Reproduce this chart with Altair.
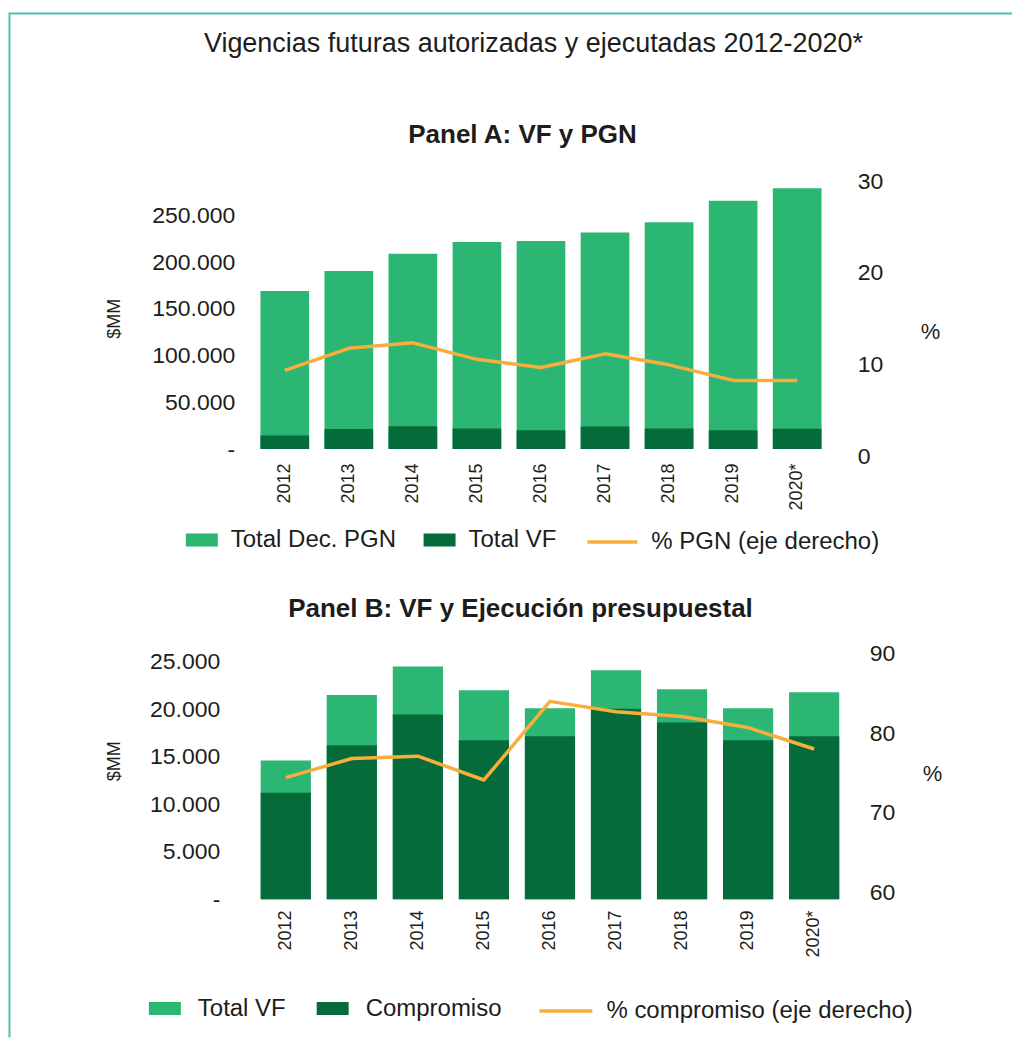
import altair as alt
import pandas as pd

# ---------------- data ----------------
years = ["2012", "2013", "2014", "2015", "2016", "2017", "2018", "2019", "2020*"]
pgn_total = [169000, 190500, 209000, 221500, 222500, 231500, 242500, 265500, 279000]
vf_total = [14600, 21500, 24500, 22000, 20100, 24100, 22100, 20100, 21800]
compromiso = [11200, 16200, 19450, 16750, 17150, 20050, 18600, 16750, 17150]
pct_pgn = [8.6, 11.0, 11.6, 9.8, 8.9, 10.4, 9.2, 7.5, 7.5]
pct_comp = [75.3, 77.7, 78.0, 75.0, 84.9, 83.6, 83.0, 81.6, 78.9]

title_main = "Vigencias futuras autorizadas y ejecutadas 2012-2020*"
title_a = "Panel A: VF y PGN"
title_b = "Panel B: VF y Ejecución presupuestal"
legend_a = ["Total Dec. PGN", "Total VF", "% PGN (eje derecho)"]
legend_b = ["Total VF", "Compromiso", "% compromiso (eje derecho)"]
ticks_a_left = [0, 50000, 100000, 150000, 200000, 250000]
ticks_a_right = [0, 10, 20, 30]
ticks_b_left = [0, 5000, 10000, 15000, 20000, 25000]
ticks_b_right = [60, 70, 80, 90]

# ---------------- style ----------------
LIGHT = "#2cb673"
DARK = "#066b3a"
ORANGE = "#f7ae3b"
TEAL = "#4fc1b0"
TXT = "#1d1d1b"
FONT = "Liberation Sans"
LABEL_EXPR = "datum.value == 0 ? '-' : replace(format(datum.value, ','), ',', '.')"

df_a_light = pd.DataFrame({"year": years, "value": pgn_total, "serie": legend_a[0]})
df_a_dark = pd.DataFrame({"year": years, "value": vf_total, "serie": legend_a[1]})
df_a_line = pd.DataFrame({"year": years, "pct": pct_pgn, "serie_l": legend_a[2]})
df_b_light = pd.DataFrame({"year": years, "value": vf_total, "serie": legend_b[0]})
df_b_dark = pd.DataFrame({"year": years, "value": compromiso, "serie": legend_b[1]})
df_b_line = pd.DataFrame({"year": years, "pct": pct_comp, "serie_l": legend_b[2]})
dummy = pd.DataFrame({"d": [0]})


def x_enc(pad):
    axis = alt.Axis(title=None, labelAngle=270, labelFont=FONT, labelFontSize=18,
                    labelPadding=pad, labelColor=TXT, domain=False, ticks=False)
    return alt.X("year:N", sort=years,
                 scale=alt.Scale(paddingInner=0.24, paddingOuter=0.12), axis=axis)


def make_panel(df_light, df_dark, df_line, legend_names, y_dom, y_ticks, y_pad, title_y,
               r_dom, r_ticks, r_pad, r_off, r_title_x, r_title_y, h,
               x_pad, lx_bar, ly_bar, col_pad, lab_off, lx_line, ly_line, line_len):
    y_scale = alt.Scale(domain=y_dom, nice=False, zero=True)
    y_axis = alt.Axis(values=y_ticks, labelExpr=LABEL_EXPR, labelFont=FONT, labelFontSize=23,
                      labelColor=TXT, labelPadding=y_pad, domain=False, ticks=False, grid=False,
                      title="$MM", titleFont=FONT, titleFontSize=18, titleFontWeight="normal",
                      titleColor=TXT, titleAngle=270, titleX=-138, titleY=title_y,
                      titleAlign="center", titleBaseline="middle")
    color_scale = alt.Scale(domain=legend_names[:2], range=[LIGHT, DARK])
    bar_legend = alt.Legend(orient="none", legendX=lx_bar, legendY=ly_bar, direction="horizontal",
                            title=None, symbolType="M-1,-0.4H1V0.4H-1Z", symbolSize=1024,
                            symbolStrokeWidth=0, symbolOpacity=1, labelFont=FONT,
                            labelFontSize=24, labelColor=TXT, labelOffset=lab_off,
                            columnPadding=col_pad, padding=0, labelLimit=600)
    light = alt.Chart(df_light).mark_bar().encode(
        x=x_enc(x_pad),
        y=alt.Y("value:Q", stack=None, scale=y_scale, axis=y_axis),
        color=alt.Color("serie:N", scale=color_scale, legend=bar_legend),
    )
    dark = alt.Chart(df_dark).mark_bar().encode(
        x=x_enc(x_pad),
        y=alt.Y("value:Q", stack=None, scale=y_scale, axis=y_axis),
        color=alt.Color("serie:N", scale=color_scale, legend=bar_legend),
    )
    bars = alt.layer(light, dark)
    line = alt.Chart(df_line).mark_line(strokeWidth=3.5, strokeJoin="round").encode(
        x=x_enc(x_pad),
        y=alt.Y("pct:Q", scale=alt.Scale(domain=r_dom, nice=False, zero=False),
                axis=alt.Axis(orient="right", values=r_ticks, labelFont=FONT, labelFontSize=23,
                              labelColor=TXT, labelPadding=r_pad, labelOffset=r_off,
                              domain=False, ticks=False, grid=False,
                              title="%", titleFont=FONT, titleFontSize=22,
                              titleFontWeight="normal", titleColor=TXT, titleAngle=0,
                              titleX=r_title_x, titleY=r_title_y, titleAlign="center",
                              titleBaseline="middle")),
        stroke=alt.Stroke("serie_l:N", scale=alt.Scale(domain=[legend_names[2]], range=[ORANGE]),
                          legend=alt.Legend(orient="none", legendX=lx_line, legendY=ly_line,
                                            title=None, symbolType="M-1,0H1",
                                            symbolSize=line_len * line_len,
                                            symbolStrokeWidth=3.5, labelFont=FONT,
                                            labelFontSize=24, labelColor=TXT, labelOffset=12,
                                            padding=0, labelLimit=600)),
    )
    return alt.layer(bars, line).resolve_scale(y="independent", color="independent",
                                               stroke="independent").properties(height=h)


def text_layer(txt, x, y, size, weight="normal"):
    return alt.Chart(pd.DataFrame({"t": [txt]})).mark_text(
        font=FONT, fontSize=size, fontWeight=weight, color=TXT, align="center",
        baseline="middle").encode(text="t:N", x=alt.value(x), y=alt.value(y))


panel_a_core = make_panel(df_a_light, df_a_dark, df_a_line, legend_a, [0, 293800], ticks_a_left, 18, 144,
                          [0, 30], ticks_a_right, 28, 7, 101, 157, 275,
                          14, -67, 350, 27, 13, 333, 341, 50)
panel_b_core = make_panel(df_b_light, df_b_dark, df_b_line, legend_b, [0, 25100], ticks_b_left, 33, 100,
                          [60, 90], ticks_b_right, 22, -7, 85, 113, 238.5,
                          11, -104, 332, 30, 17, 285, 322, 53)

top_rule = alt.Chart(dummy).mark_rule(color=TEAL, strokeWidth=2).encode(
    x=alt.value(-244), x2=alt.value(760), y=alt.value(-161))
left_rule = alt.Chart(dummy).mark_rule(color=TEAL, strokeWidth=2).encode(
    x=alt.value(-243.5), y=alt.value(-162), y2=alt.value(864))

panel_a = alt.layer(
    panel_a_core,
    text_layer(title_main, 281, -130, 27),
    text_layer(title_a, 270, -39, 26, "bold"),
    top_rule, left_rule,
).properties(width=577, height=275)

panel_b = alt.layer(
    panel_b_core,
    text_layer(title_b, 268, -52, 26, "bold"),
).properties(width=595, height=238.5)

chart = alt.vconcat(panel_a, panel_b, spacing=212, bounds="flush").properties(
    padding={"left": 0, "top": 3, "right": 0, "bottom": 0}
).configure(font=FONT, background="white").configure_view(strokeWidth=0, strokeOpacity=0)

chart.save("out.html", embed_options={"renderer": "svg", "actions": False})
